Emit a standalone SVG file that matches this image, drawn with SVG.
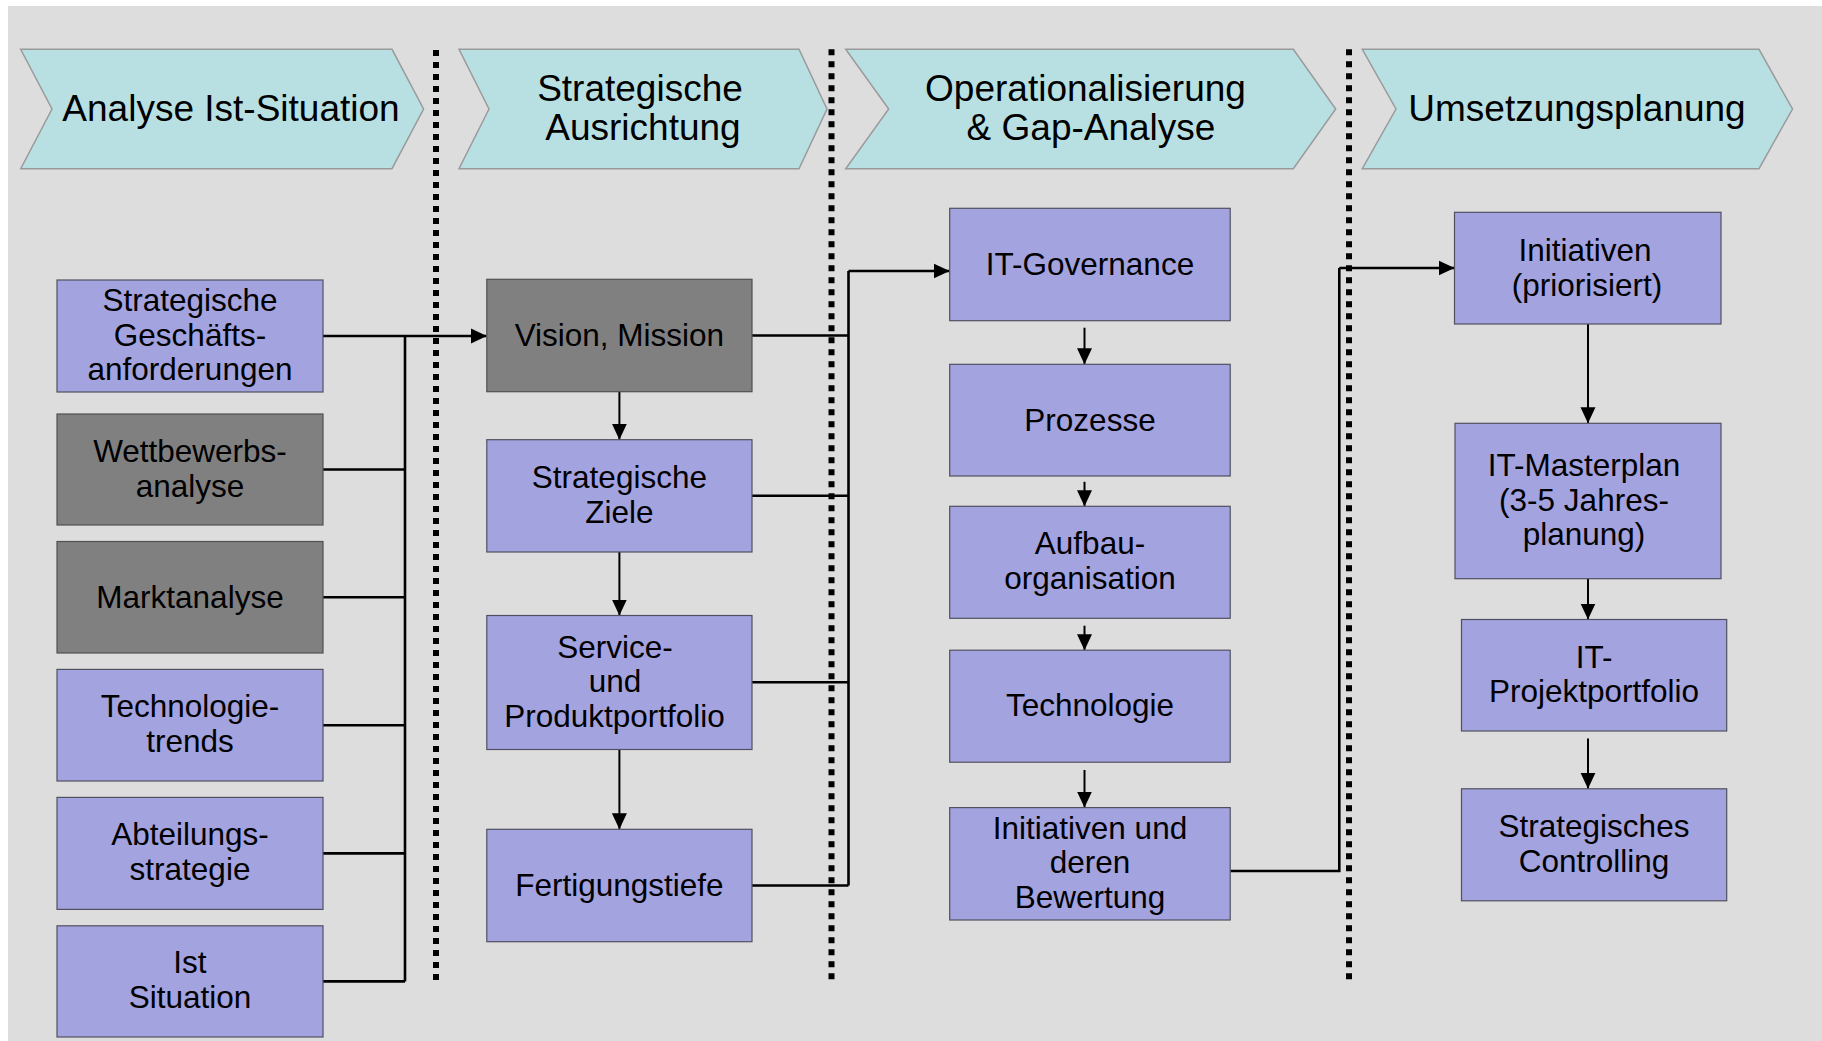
<svg xmlns="http://www.w3.org/2000/svg" width="1822" height="1041" viewBox="0 0 1822 1041">
<style>
.bg{fill:#dddddd}
.chev{fill:#b8e0e3;stroke:#9a9a9a;stroke-width:1.5}
.ht{font-family:"Liberation Sans",Arial,sans-serif;font-size:37px;fill:#000;text-anchor:middle}
.nt{font-family:"Liberation Sans",Arial,sans-serif;font-size:31.5px;fill:#000;text-anchor:middle}
.blue{fill:#a3a3e0;stroke:#505060;stroke-width:1.2}
.gray{fill:#808080;stroke:#505050;stroke-width:1.2}
.dot{stroke:#000;stroke-width:6;stroke-dasharray:6 6;fill:none}
.c{stroke:#000;stroke-width:2.6;fill:none}
.t{stroke:#000;stroke-width:2;fill:none}
</style>
<defs>
<marker id="ah" markerUnits="userSpaceOnUse" markerWidth="16" markerHeight="16" viewBox="0 0 16 16" refX="16" refY="8" orient="auto">
<path d="M0,0.5 L16,8 L0,15.5 Z" fill="#000"/>
</marker>
</defs>
<rect class="bg" x="8" y="6" width="1814" height="1035"/>

<g id="phases">
<g id="phase1">
<polygon class="chev" points="20.7,49.3 392,49.3 423.6,109 392,168.7 20.7,168.7 52,109"/>
<text class="ht" x="231" y="120.7">Analyse Ist-Situation</text>
</g>
<g id="phase2">
<polygon class="chev" points="459,49.3 799,49.3 827,109 799,168.7 459,168.7 489,109"/>
<text class="ht" x="640" y="100.5">Strategische</text>
<text class="ht" x="643" y="139.5">Ausrichtung</text>
</g>
<g id="phase3">
<polygon class="chev" points="845.7,49.3 1293.3,49.3 1335.7,109 1293.3,168.7 845.7,168.7 888.7,109"/>
<text class="ht" x="1085.5" y="100.5">Operationalisierung</text>
<text class="ht" x="1091" y="139.5">&amp; Gap-Analyse</text>
</g>
<g id="phase4">
<polygon class="chev" points="1362.3,49.3 1759,49.3 1792.5,109 1759,168.7 1362.3,168.7 1396,109"/>
<text class="ht" x="1577" y="120.7">Umsetzungsplanung</text>
</g>
</g>

<g id="separators">
<line class="dot" x1="436" y1="50" x2="436" y2="986"/>
<line class="dot" x1="831.5" y1="49.3" x2="831.5" y2="980"/>
<line class="dot" x1="1349" y1="49.3" x2="1349" y2="980"/>
</g>

<g id="connectors">
<path class="c" d="M323,336 H405 M323,469.5 H405 M323,597.3 H405 M323,725.2 H405 M323,853.4 H405 M323,981.4 H405 M405,336 V981.4"/>
<line class="c" x1="405" y1="336" x2="486.8" y2="336" marker-end="url(#ah)"/>
<path class="c" d="M752,335.5 H848.5 M752,495.8 H848.5 M752,682.3 H848.5 M752,885.5 H848.5 M848.5,271 V885.5"/>
<line class="c" x1="848.5" y1="271" x2="949.7" y2="271" marker-end="url(#ah)"/>
<line class="t" x1="619.4" y1="391.7" x2="619.4" y2="439.7" marker-end="url(#ah)"/>
<line class="t" x1="619.4" y1="552" x2="619.4" y2="615.5" marker-end="url(#ah)"/>
<line class="t" x1="619.4" y1="749.5" x2="619.4" y2="829.3" marker-end="url(#ah)"/>
<line class="t" x1="1084.5" y1="327.7" x2="1084.5" y2="364.3" marker-end="url(#ah)"/>
<line class="t" x1="1084.5" y1="481.8" x2="1084.5" y2="506.3" marker-end="url(#ah)"/>
<line class="t" x1="1084.5" y1="625.7" x2="1084.5" y2="650.2" marker-end="url(#ah)"/>
<line class="t" x1="1084.5" y1="770" x2="1084.5" y2="807.6" marker-end="url(#ah)"/>
<path class="c" d="M1230.2,871 H1339.3 V268"/>
<line class="c" x1="1339.3" y1="268" x2="1454.5" y2="268" marker-end="url(#ah)"/>
<line class="t" x1="1588" y1="324" x2="1588" y2="423.3" marker-end="url(#ah)"/>
<line class="t" x1="1588" y1="578.7" x2="1588" y2="619.5" marker-end="url(#ah)"/>
<line class="t" x1="1588" y1="738.5" x2="1588" y2="788.8" marker-end="url(#ah)"/>
</g>

<g id="n-geschaeft"><rect class="blue" x="57" y="280" width="266" height="112"/>
<text class="nt" x="190" y="311">Strategische</text><text class="nt" x="190" y="345.5">Geschäfts-</text><text class="nt" x="190" y="380">anforderungen</text></g>
<g id="n-wettbewerb"><rect class="gray" x="57" y="414" width="266" height="111"/>
<text class="nt" x="190" y="461.5">Wettbewerbs-</text><text class="nt" x="190" y="496.5">analyse</text></g>
<g id="n-markt"><rect class="gray" x="57" y="541.5" width="266" height="111.5"/>
<text class="nt" x="190" y="607.8">Marktanalyse</text></g>
<g id="n-techtrends"><rect class="blue" x="57" y="669.4" width="266" height="111.6"/>
<text class="nt" x="190" y="717.2">Technologie-</text><text class="nt" x="190" y="752.2">trends</text></g>
<g id="n-abteilung"><rect class="blue" x="57" y="797.4" width="266" height="112"/>
<text class="nt" x="190" y="845.4">Abteilungs-</text><text class="nt" x="190" y="880.4">strategie</text></g>
<g id="n-ist"><rect class="blue" x="57" y="925.8" width="266" height="111.2"/>
<text class="nt" x="190" y="973.4">Ist</text><text class="nt" x="190" y="1008.4">Situation</text></g>

<g id="n-vision"><rect class="gray" x="486.8" y="279.3" width="265.2" height="112.4"/>
<text class="nt" x="619.4" y="346">Vision, Mission</text></g>
<g id="n-ziele"><rect class="blue" x="486.8" y="439.7" width="265.2" height="112.3"/>
<text class="nt" x="619.4" y="487.8">Strategische</text><text class="nt" x="619.4" y="522.8">Ziele</text></g>
<g id="n-service"><rect class="blue" x="486.8" y="615.5" width="265.2" height="134"/>
<text class="nt" x="615" y="657.5">Service-</text><text class="nt" x="615" y="692">und</text><text class="nt" x="614.5" y="726.5">Produktportfolio</text></g>
<g id="n-fertigung"><rect class="blue" x="486.8" y="829.3" width="265.2" height="112.4"/>
<text class="nt" x="619.4" y="896">Fertigungstiefe</text></g>

<g id="n-governance"><rect class="blue" x="949.7" y="208.3" width="280.5" height="112.4"/>
<text class="nt" x="1090" y="275">IT-Governance</text></g>
<g id="n-prozesse"><rect class="blue" x="949.7" y="364.3" width="280.5" height="111.7"/>
<text class="nt" x="1090" y="430.5">Prozesse</text></g>
<g id="n-aufbau"><rect class="blue" x="949.7" y="506.3" width="280.5" height="112"/>
<text class="nt" x="1090" y="554.3">Aufbau-</text><text class="nt" x="1090" y="589.3">organisation</text></g>
<g id="n-technologie"><rect class="blue" x="949.7" y="650.2" width="280.5" height="112"/>
<text class="nt" x="1090" y="715.5">Technologie</text></g>
<g id="n-init-bewertung"><rect class="blue" x="949.7" y="807.6" width="280.5" height="112.4"/>
<text class="nt" x="1090" y="838.5">Initiativen und</text><text class="nt" x="1090" y="873.3">deren</text><text class="nt" x="1090" y="907.5">Bewertung</text></g>

<g id="n-init-prio"><rect class="blue" x="1454.5" y="212.3" width="266.5" height="111.7"/>
<text class="nt" x="1585" y="261">Initiativen</text><text class="nt" x="1587" y="295.5">(priorisiert)</text></g>
<g id="n-masterplan"><rect class="blue" x="1455" y="423.3" width="266" height="155.4"/>
<text class="nt" x="1584" y="476">IT-Masterplan</text><text class="nt" x="1584" y="510.5">(3-5 Jahres-</text><text class="nt" x="1584" y="545">planung)</text></g>
<g id="n-projektportfolio"><rect class="blue" x="1461.5" y="619.5" width="265.2" height="111.5"/>
<text class="nt" x="1594" y="667.5">IT-</text><text class="nt" x="1594" y="702.3">Projektportfolio</text></g>
<g id="n-controlling"><rect class="blue" x="1461.5" y="788.8" width="265.2" height="112"/>
<text class="nt" x="1594" y="836.7">Strategisches</text><text class="nt" x="1594" y="872">Controlling</text></g>
</svg>
